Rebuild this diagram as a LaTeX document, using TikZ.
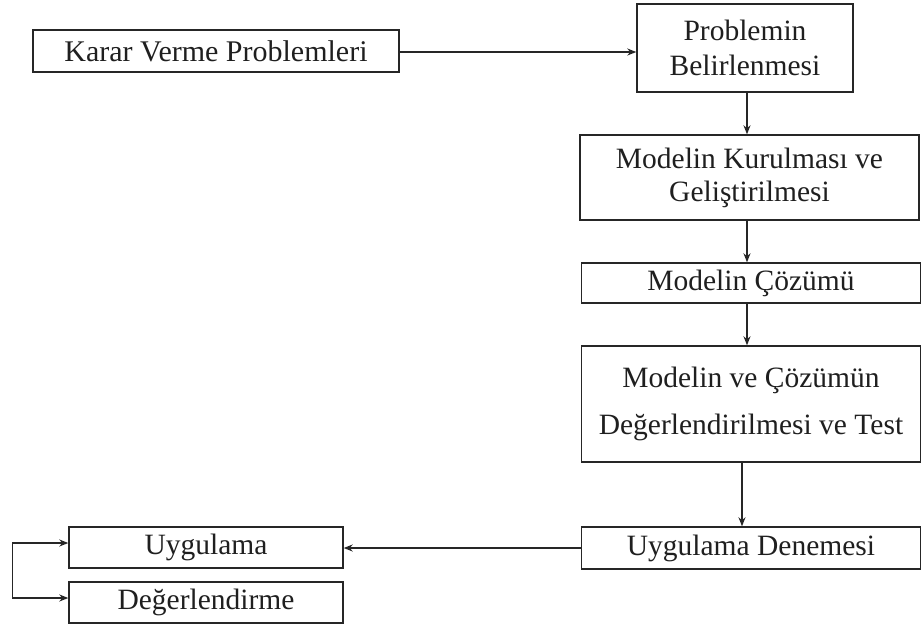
\documentclass[tikz,border=0pt]{standalone}
\usepackage{fontspec}
\setmainfont{Liberation Serif}
\usetikzlibrary{arrows.meta}
\begin{document}
\begin{tikzpicture}[x=1pt,y=-1pt,
  box/.style={draw=black!85,line width=1.4pt,rectangle,inner sep=0pt,align=center,
    font=\fontsize{29.5}{35}\selectfont,text=black!88},
  arr/.style={draw=black!85,line width=1.4pt,-{Stealth[length=9pt,width=7pt]}},
  arrb/.style={draw=black!85,line width=1.4pt,{Stealth[length=9pt,width=7pt]}-{Stealth[length=9pt,width=7pt]}}]
\useasboundingbox (0,0) rectangle (922,625);
\node[box,minimum width=366pt,minimum height=42pt,font=\fontsize{30}{35}\selectfont] (b1) at (216,51) {Karar Verme Problemleri};
\node[box,minimum width=216pt,minimum height=88pt] (b2) at (745,48) {Problemin\\Belirlenmesi};
\node[box,minimum width=339pt,minimum height=85pt,font=\fontsize{29.5}{33}\selectfont] (b3) at (749.5,177.5) {Modelin Kurulması ve\\Geliştirilmesi};
\node[box,minimum width=339pt,minimum height=40pt] (b4) at (751,283) {Modelin Çözümü};
\node[box,minimum width=339pt,minimum height=116pt] (b5) at (751,404) {Modelin ve Çözümün\\[12pt]Değerlendirilmesi ve Test};
\node[box,minimum width=339pt,minimum height=42pt] (b6) at (751,548) {Uygulama Denemesi};
\node[box,minimum width=274pt,minimum height=41pt] (u) at (206,547.5) {Uygulama};
\node[box,minimum width=274pt,minimum height=41pt] (d) at (206,602.5) {Değerlendirme};
\draw[arr] ([yshift=-1pt]b1.east) -- ([yshift=-1pt]b1.east -| b2.west);
\draw[arr] ([xshift=2pt]b2.south) -- ([xshift=2pt]b2.south |- b3.north);
\draw[arr] ([xshift=-2.5pt]b3.south) -- ([xshift=-2.5pt]b3.south |- b4.north);
\draw[arr] ([xshift=-4pt]b4.south) -- ([xshift=-4pt]b4.south |- b5.north);
\draw[arr] ([xshift=-9pt]b5.south) -- ([xshift=-9pt]b5.south |- b6.north);
\draw[arr] (b6.west) -- (b6.west -| u.east);
\draw[arrb] ([yshift=4.5pt]u.west) -- ++(-56,0) |- ([yshift=4.5pt]d.west);
\end{tikzpicture}
\end{document}
